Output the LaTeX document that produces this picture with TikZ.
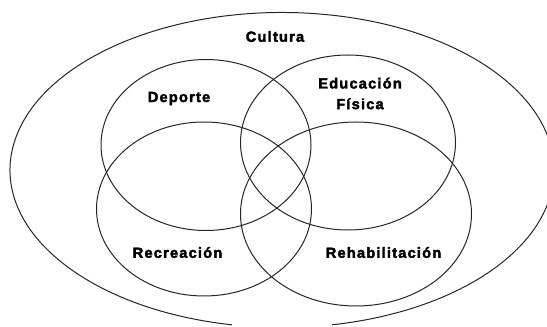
\documentclass[tikz,border=0pt]{standalone}
\usepackage{fontspec}
\newfontfamily\vennfont{Liberation Sans Bold}[LetterSpace=8,FakeBold=2.6]

\tikzset{every picture/.style={line width=0.75pt}}

\begin{document}
\begin{tikzpicture}[x=0.75pt,y=0.75pt,yscale=-1,xscale=1,
  venn/.style={draw=black!85},
  vennlabel/.style={inner sep=0.75pt,align=center,font=\vennfont\fontsize{11}{15.5}\selectfont}]
\useasboundingbox (0,0) rectangle (547,327);
\clip (0,0) rectangle (547,327);

%Shape: Ellipse (Cultura, open at the bottom)
\coordinate (cultura) at (282,170);
\draw [venn] ([shift={(100.6:272 and 157.5)}]cultura) arc [start angle=100.6, end angle=439.4, x radius=272, y radius=157.5];

%Shape: Ellipse (Deporte)
\coordinate (deporte) at (206,145);
\draw [venn] (deporte) ellipse [x radius=105, y radius=85.5];
%Shape: Ellipse (Educacion Fisica)
\coordinate (educacion) at (348,142.5);
\draw [venn] (educacion) ellipse [x radius=107.5, y radius=87.5];
%Shape: Ellipse (Recreacion)
\coordinate (recreacion) at (204,209);
\draw [venn] (recreacion) ellipse [x radius=107.5, y radius=87];
%Shape: Ellipse (Rehabilitacion)
\coordinate (rehab) at (356,214);
\draw [venn] (rehab) ellipse [x radius=115.5, y radius=92];

% Text Node
\node [vennlabel] (lcultura) at (275,36.5) {Cultura};
% Text Node
\node [vennlabel] (ldeporte) at (179,98.5) {Deporte};
% Text Node
\node [vennlabel] (leducacion) at (360,93.5) {Educación\\Física};
% Text Node
\node [vennlabel] (lrecreacion) at (177.5,252.5) {Recreación};
% Text Node
\node [vennlabel] (lrehab) at (383.5,252.5) {Rehabilitación};

\end{tikzpicture}
\end{document}
